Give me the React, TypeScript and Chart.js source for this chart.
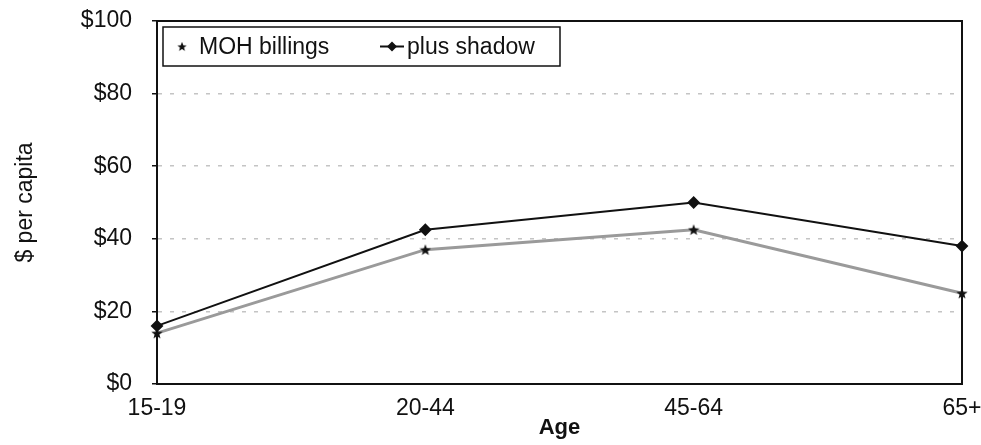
import React, { useEffect, useRef } from "react";
import { Chart, registerables } from "chart.js";

Chart.register(...registerables);

const categories = ["15-19", "20-44", "45-64", "65+"];
const mohBillings = [14, 37, 42.5, 25];
const plusShadow = [16, 42.5, 50, 38];
const yTicks = [0, 20, 40, 60, 80, 100];
const seriesNames = ["MOH billings", "plus shadow"];

const FONT = "'Liberation Sans', Arial, sans-serif";

function makeStar(size: number): HTMLCanvasElement {
  const c = document.createElement("canvas");
  c.width = size;
  c.height = size;
  const ctx = c.getContext("2d")!;
  const cx = size / 2, cy = size / 2 + 0.5;
  const R = size / 2, r = R * 0.42;
  ctx.beginPath();
  for (let i = 0; i < 10; i++) {
    const rad = i % 2 === 0 ? R : r;
    const a = -Math.PI / 2 + (i * Math.PI) / 5;
    const x = cx + rad * Math.cos(a), y = cy + rad * Math.sin(a);
    if (i === 0) ctx.moveTo(x, y); else ctx.lineTo(x, y);
  }
  ctx.closePath();
  ctx.fillStyle = "#111";
  ctx.fill();
  return c;
}

const frameAndLegend = {
  id: "frameAndLegend",
  afterDatasetsDraw(chart: any) {
    const { ctx, chartArea } = chart;
    ctx.save();
    ctx.strokeStyle = "#111";
    ctx.lineWidth = 2;
    ctx.strokeRect(chartArea.left, chartArea.top, chartArea.right - chartArea.left, chartArea.bottom - chartArea.top);

    // legend box
    const bx = chartArea.left + 6, by = chartArea.top + 6, bh = 39;
    const bw = 397;
    ctx.fillStyle = "#fff";
    ctx.fillRect(bx, by, bw, bh);
    ctx.lineWidth = 1.5;
    ctx.strokeRect(bx, by, bw, bh);
    const cy = by + bh / 2;
    ctx.font = `23px ${FONT}`;
    ctx.textBaseline = "middle";
    ctx.fillStyle = "#111";
    const star = chart.data.datasets[0].pointStyle;
    if (star instanceof HTMLCanvasElement) ctx.drawImage(star, bx + 14, cy - 5, 10, 10);
    ctx.fillText(chart.data.datasets[0].label, bx + 36, cy + 1);
    // second entry
    const lx = bx + 217;
    ctx.beginPath();
    ctx.moveTo(lx, cy);
    ctx.lineTo(lx + 24, cy);
    ctx.lineWidth = 2;
    ctx.stroke();
    ctx.beginPath();
    const dx = lx + 12;
    ctx.moveTo(dx, cy - 5);
    ctx.lineTo(dx + 5, cy);
    ctx.lineTo(dx, cy + 5);
    ctx.lineTo(dx - 5, cy);
    ctx.closePath();
    ctx.fill();
    ctx.fillText(chart.data.datasets[1].label, lx + 27, cy + 1);
    ctx.restore();
  },
};

export default function App() {
  const ref = useRef<HTMLCanvasElement>(null);
  useEffect(() => {
    document.body.style.margin = "0";
    const star = makeStar(12);
    const chart: any = new Chart(ref.current!, {
      type: "line",
      data: {
        labels: categories,
        datasets: [
          {
            label: seriesNames[0],
            data: mohBillings,
            borderColor: "#9a9a9a",
            borderWidth: 3,
            pointStyle: star as any,
            pointRadius: 6,
            backgroundColor: "#111",
          },
          {
            label: seriesNames[1],
            data: plusShadow,
            borderColor: "#111",
            borderWidth: 2,
            pointStyle: "rectRot",
            pointRadius: 5,
            backgroundColor: "#111",
            pointBorderColor: "#111",
          },
        ],
      },
      options: {
        responsive: false,
        animation: false,
        layout: { padding: { top: 21, right: 19, bottom: 0, left: 0 } },
        plugins: { legend: { display: false }, tooltip: { enabled: false } },
        scales: {
          x: {
            offset: false,
            grid: { display: false, drawTicks: false },
            border: { display: true, color: "#111", width: 2 },
            ticks: { color: "#111", font: { family: FONT, size: 23 }, padding: 11, maxRotation: 0, autoSkip: false },
            title: { display: true, text: "Age", color: "#111", font: { family: FONT, size: 22, weight: "bold" }, padding: { top: 0, bottom: 4 } },
            afterFit: (s: any) => {
              s.height = 61;
              s.paddingLeft = 0;
              s.paddingRight = 0;
            },
          },
          y: {
            min: 0,
            max: 100,
            afterBuildTicks: (s: any) => { s.ticks = yTicks.map((v) => ({ value: v })); },
            grid: {
              color: (c: any) => (c.tick && (c.tick.value === 0 || c.tick.value === 100) ? "rgba(0,0,0,0)" : "#c4c4c4"),
              tickColor: "#111",
              tickLength: 5,
              tickBorderDash: [],
              lineWidth: 1.5,
            },
            border: { display: true, color: "#111", width: 2, dash: [4, 8] },
            ticks: {
              color: "#111",
              font: { family: FONT, size: 23 },
              padding: 20,
              callback: (v: any) => "$" + v,
            },
            title: { display: true, text: "$ per capita", color: "#111", font: { family: FONT, size: 23 }, padding: { top: 12, bottom: 0 } },
            afterFit: (s: any) => {
              s.width = 157;
              s.paddingTop = 0;
              s.paddingBottom = 0;
            },
          },
        },
      },
      plugins: [frameAndLegend],
    });
    return () => chart.destroy();
  }, []);
  return (
    <div style={{ width: 981, height: 445, background: "#fff" }}>
      <canvas ref={ref} width={981} height={445} />
    </div>
  );
}
